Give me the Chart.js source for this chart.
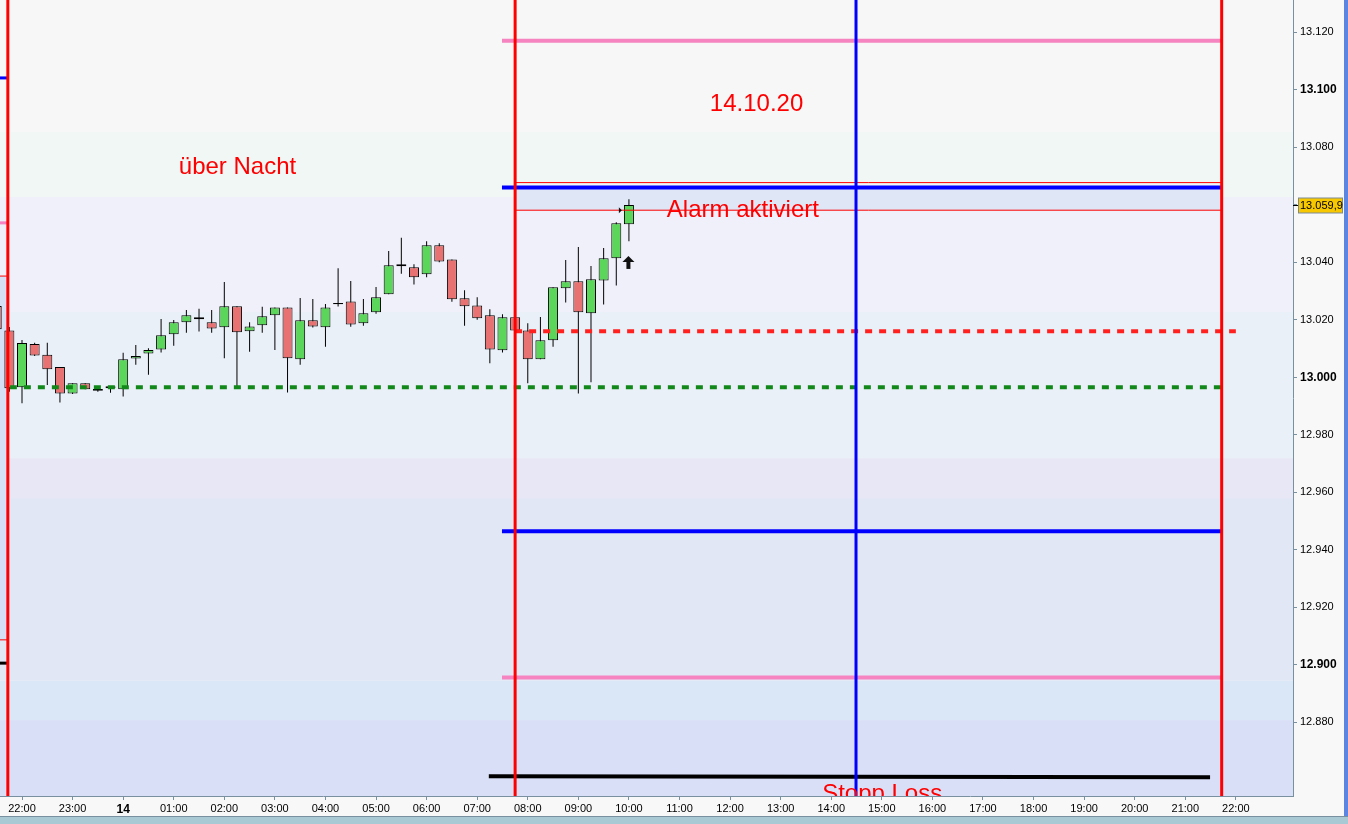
<!DOCTYPE html>
<html>
<head>
<meta charset="utf-8">
<script src="https://cdn.jsdelivr.net/npm/chart.js@4.4.0/dist/chart.umd.min.js"></script>
<style>
    html, body { margin: 0; padding: 0; width: 1348px; height: 824px; overflow: hidden; background: #f8f8f8; }
    #wrap { position: absolute; left: 0; top: 0; width: 1344px; height: 816px; }
    #right-bar { position: absolute; left: 1344px; top: 0; width: 4px; height: 817px; background: #5b85e0; }
    #bottom-line { position: absolute; left: 0; top: 816px; width: 1348px; height: 1px; background: #7890a0; }
    #bottom-bar { position: absolute; left: 0; top: 817px; width: 1348px; height: 7px; background: #a9c9d5; }
</style>
</head>
<body>
<div id="wrap"><canvas id="chart" width="1344" height="816"></canvas></div>
<div id="right-bar"></div>
<div id="bottom-line"></div>
<div id="bottom-bar"></div>
<script>
// 15 minute candles, times
const candleTimes = ['21:30','21:45','22:00','22:15','22:30','22:45','23:00','23:15','23:30','23:45',
    '00:00','00:15','00:30','00:45','01:00','01:15','01:30','01:45','02:00','02:15',
    '02:30','02:45','03:00','03:15','03:30','03:45','04:00','04:15','04:30','04:45',
    '05:00','05:15','05:30','05:45','06:00','06:15','06:30','06:45','07:00','07:15',
    '07:30','07:45','08:00','08:15','08:30','08:45','09:00','09:15','09:30','09:45','10:00'];
const opens = [13024.8, 13016.3, 12996.5, 13011.6, 13007.8, 13003.6, 12994.4, 12997.9, 12995.9, 12996.9,
    12995.8, 13006.5, 13008.3, 13009.7, 13015.0, 13019.1, 13020.9, 13019.1, 13017.4, 13024.7,
    13016.0, 13018.1, 13021.6, 13024.3, 13006.3, 13019.8, 13017.4, 13025.8, 13026.4, 13018.8,
    13022.6, 13028.9, 13039.3, 13038.3, 13035.8, 13045.9, 13041.0, 13027.5, 13025.0, 13021.6,
    13009.4, 13020.9, 13016.3, 13006.3, 13012.9, 13031.0, 13033.4, 13022.3, 13033.7, 13041.4, 13053.2];
const highs = [13026.0, 13017.5, 13013.0, 13012.0, 13012.0, 13003.6, 12997.9, 12997.9, 12995.9, 12996.9,
    13008.5, 13011.2, 13010.1, 13020.3, 13019.9, 13023.4, 13023.8, 13023.4, 13033.1, 13024.7,
    13019.1, 13024.5, 13024.3, 13024.3, 13027.6, 13027.2, 13025.5, 13037.9, 13033.5, 13027.2,
    13031.4, 13043.9, 13048.5, 13039.3, 13047.3, 13046.6, 13041.0, 13030.3, 13027.8, 13023.7,
    13021.9, 13020.9, 13018.8, 13021.0, 13031.3, 13040.8, 13045.3, 13038.7, 13045.0, 13053.9, 13061.9];
const lows = [13015.5, 12995.0, 12991.0, 13007.4, 12997.3, 12991.2, 12994.2, 12995.8, 12995.0, 12994.6,
    12993.3, 13004.4, 13000.9, 13008.6, 13011.0, 13015.5, 13015.9, 13015.5, 13006.6, 12996.7,
    13008.9, 13015.5, 13009.5, 12994.7, 13004.4, 13017.3, 13010.6, 13024.6, 13017.6, 13017.9,
    13022.1, 13028.9, 13036.0, 13032.3, 13034.8, 13040.0, 13026.3, 13017.9, 13020.0, 13004.9,
    13008.6, 13016.3, 12997.9, 13006.3, 13010.6, 13026.0, 12994.4, 12998.3, 13025.3, 13031.9, 13047.3];
const closes = [13016.7, 12996.2, 13011.9, 13007.6, 13002.8, 12994.4, 12997.9, 12995.8, 12995.3, 12996.2,
    13006.3, 13007.4, 13009.5, 13014.6, 13019.1, 13021.6, 13020.2, 13017.0, 13024.7, 13015.7,
    13017.7, 13021.2, 13024.3, 13006.6, 13019.8, 13017.7, 13024.3, 13025.4, 13018.4, 13022.3,
    13027.8, 13039.0, 13038.6, 13034.8, 13045.9, 13040.3, 13027.1, 13024.7, 13020.5, 13009.7,
    13020.9, 13016.3, 13006.3, 13012.9, 13031.3, 13033.4, 13022.6, 13034.1, 13041.4, 13053.6, 13059.9];

// axis ticks (x values are hours counted from 22:00)
const xTickLabels = ['22:00','23:00','14','01:00','02:00','03:00','04:00','05:00','06:00','07:00','08:00','09:00',
    '10:00','11:00','12:00','13:00','14:00','15:00','16:00','17:00','18:00','19:00','20:00','21:00','22:00'];
const yTicks = [12880, 12900, 12920, 12940, 12960, 12980, 13000, 13020, 13040, 13060, 13080, 13100, 13120];
const boldYTicks = [12900, 13000, 13100];
const xRange = [-0.435, 25.13];
const yRange = [12854.4, 13131.2];

// drawn levels
const redVerticals = [-0.28, 9.75, 23.72];
const blueVertical = 16.49;
const pinkLevels = [13117.0, 12895.6];
const blueLevels = [13066.0, 12946.5];
const alarmLevels = [13067.7, 13058.1];
const stopLossLevel = [12861.3, 12860.9];
const redDashLevel = 13016.0;
const greenDashLevel = 12996.5;
const prevDayLevels = [13104.1, 13053.7, 13035.2, 12908.7, 12900.6];

// background zones
const bandEdges = [13131.2, 13085.3, 13062.7, 13022.7, 12971.9, 12958.0, 12894.5, 12880.8, 12854.4];
const bandColors = ['#f7f7f7', '#f0f7f5', '#eff0f9', '#eaf0f8', '#e8e7f5', '#e2e7f6', '#d9e7f6', '#d8dff6'];

// labels on the chart: text, hour, price (baseline)
const noteTexts = ['über Nacht', '14.10.20', 'Alarm aktiviert', 'Stopp Loss'];
const noteX = [3.10, 13.60, 12.75, 15.82];
const noteY = [13070.7, 13092.7, 13055.7, 12852.6];
const arrowMark = [11.99, 13042.2];
const lastMark = [11.86, 13058.1];

function toHours(t) {
    const [h, m] = t.split(':').map(Number);
    let v = h + m / 60 - 22;
    if (v < -2) v += 24;
    return v;
}

const candleX = candleTimes.map(toHours);
const FONT = '"Liberation Sans", Arial, sans-serif';

function seg(x1, y1, x2, y2, color, width, order, dash) {
    return {
        type: 'line',
        data: [{ x: x1, y: y1 }, { x: x2, y: y2 }],
        borderColor: color,
        borderWidth: width,
        borderDash: dash || [],
        borderCapStyle: 'butt',
        pointRadius: 0,
        fill: false,
        tension: 0,
        order: order
    };
}

const datasets = [];

// wicks and bodies
datasets.push({
    type: 'bar',
    data: candleX.map((x, i) => ({ x: x, y: [lows[i], highs[i]] })),
    backgroundColor: '#000000',
    barThickness: 1,
    borderWidth: 0,
    borderSkipped: false,
    inflateAmount: 0,
    grouped: false,
    order: 11
});
datasets.push({
    type: 'bar',
    data: candleX.map((x, i) => ({ x: x, y: [opens[i], closes[i]] })),
    backgroundColor: opens.map((o, i) => closes[i] >= o ? '#5bd65b' : '#e87272'),
    borderColor: '#000000',
    borderWidth: 1,
    barThickness: 10,
    borderSkipped: false,
    inflateAmount: 0,
    grouped: false,
    order: 10
});

// previous day stubs at the left edge
datasets.push(seg(xRange[0], prevDayLevels[0], redVerticals[0], prevDayLevels[0], '#0000ff', 3, 3));
datasets.push(seg(xRange[0], prevDayLevels[1], redVerticals[0], prevDayLevels[1], '#f584c0', 3, 3));
datasets.push(seg(xRange[0], prevDayLevels[2], redVerticals[0], prevDayLevels[2], '#ff0000', 1, 3));
datasets.push(seg(xRange[0], prevDayLevels[3], redVerticals[0], prevDayLevels[3], '#ff0000', 1, 3));
datasets.push(seg(xRange[0], prevDayLevels[4], redVerticals[0], prevDayLevels[4], '#000000', 3, 3));

// today's levels
pinkLevels.forEach(p => datasets.push(seg(9.49, p, 23.72, p, '#f584c0', 4, 2)));
blueLevels.forEach(p => datasets.push(seg(9.49, p, 23.72, p, '#0000ff', 4, 2)));
alarmLevels.forEach(p => datasets.push(seg(9.75, p, 23.72, p, '#ff0000', 1, 2)));
datasets.push(seg(9.23, stopLossLevel[0], 23.49, stopLossLevel[1], '#000000', 4, 2));
datasets.push(seg(9.75, redDashLevel, 24.0, redDashLevel, '#ff2020', 4, 2, [7, 7]));
datasets.push(seg(-0.24, greenDashLevel, 23.72, greenDashLevel, '#12881a', 4, 2, [7, 7]));

// vertical markers
redVerticals.forEach(x => datasets.push(seg(x, yRange[0], x, yRange[1], '#ff0000', 3, 1)));
datasets.push(seg(blueVertical, yRange[0], blueVertical, yRange[1], '#0000ff', 3, 1));

function formatPrice(v) {
    const parts = v.toFixed(1).split('.');
    return parts[0].replace(/\B(?=(\d{3})+(?!\d))/g, '.') + ',' + parts[1];
}

const zonesPlugin = {
    id: 'zones',
    beforeDatasetsDraw(chart) {
        const { ctx, chartArea: a, scales: { x, y } } = chart;
        ctx.save();
        ctx.beginPath();
        ctx.rect(a.left, a.top, a.right - a.left, a.bottom - a.top);
        ctx.clip();
        for (let i = 0; i < bandColors.length; i++) {
            const y1 = y.getPixelForValue(bandEdges[i]);
            const y2 = y.getPixelForValue(bandEdges[i + 1]);
            ctx.fillStyle = bandColors[i];
            ctx.fillRect(a.left, y1, a.right - a.left, y2 - y1);
        }
        // alarm zone
        let x1 = x.getPixelForValue(9.75), x2 = x.getPixelForValue(23.72);
        let y1 = y.getPixelForValue(blueLevels[0]), y2 = y.getPixelForValue(alarmLevels[1]);
        ctx.fillStyle = '#dfe6f6';
        ctx.fillRect(x1, y1, x2 - x1, y2 - y1);
        // previous day zone
        x1 = x.getPixelForValue(xRange[0]);
        x2 = x.getPixelForValue(redVerticals[0]);
        y1 = y.getPixelForValue(prevDayLevels[2]);
        y2 = y.getPixelForValue(prevDayLevels[3]);
        ctx.fillStyle = '#d5dff5';
        ctx.fillRect(x1, y1, x2 - x1, y2 - y1);
        ctx.restore();
    }
};

const notesPlugin = {
    id: 'notes',
    afterDatasetsDraw(chart) {
        const { ctx, chartArea: a, scales: { x, y } } = chart;
        ctx.save();
        ctx.beginPath();
        ctx.rect(a.left, a.top, a.right - a.left, a.bottom - a.top);
        ctx.clip();
        ctx.fillStyle = '#ff0000';
        ctx.font = '24px ' + FONT;
        ctx.textAlign = 'left';
        ctx.textBaseline = 'alphabetic';
        noteTexts.forEach((t, i) => {
            ctx.fillText(t, x.getPixelForValue(noteX[i]), y.getPixelForValue(noteY[i]));
        });

        // up arrow under the last candle
        const ax = x.getPixelForValue(arrowMark[0]);
        const ay = y.getPixelForValue(arrowMark[1]);
        ctx.fillStyle = '#111111';
        ctx.beginPath();
        ctx.moveTo(ax, ay);
        ctx.lineTo(ax + 6, ay + 6);
        ctx.lineTo(ax - 6, ay + 6);
        ctx.closePath();
        ctx.fill();
        ctx.fillRect(ax - 2, ay + 6, 4, 7);

        // small marker at last price
        const mx = x.getPixelForValue(lastMark[0]);
        const my = y.getPixelForValue(lastMark[1]);
        ctx.beginPath();
        ctx.moveTo(mx, my);
        ctx.lineTo(mx - 3, my - 3);
        ctx.lineTo(mx - 3, my + 3);
        ctx.closePath();
        ctx.fill();
        ctx.restore();

        // price box on the axis
        const last = closes[closes.length - 1];
        const py = Math.round(y.getPixelForValue(last)) + 0.5;
        ctx.save();
        ctx.strokeStyle = '#000000';
        ctx.lineWidth = 1;
        ctx.beginPath();
        ctx.moveTo(a.right, py);
        ctx.lineTo(a.right + 5, py);
        ctx.stroke();
        ctx.fillStyle = '#f7c800';
        ctx.fillRect(a.right + 5.5, py - 7.5, 44, 15);
        ctx.strokeStyle = '#7c8a96';
        ctx.strokeRect(a.right + 5.5, py - 7.5, 44, 15);
        ctx.fillStyle = '#000000';
        ctx.font = '11px ' + FONT;
        ctx.textBaseline = 'middle';
        ctx.fillText(formatPrice(last), a.right + 7, py + 0.5);
        ctx.restore();
    }
};

new Chart(document.getElementById('chart'), {
    type: 'bar',
    data: { datasets: datasets },
    options: {
        responsive: false,
        animation: false,
        events: [],
        layout: { padding: 0 },
        plugins: {
            legend: { display: false },
            tooltip: { enabled: false }
        },
        scales: {
            x: {
                type: 'linear',
                min: xRange[0],
                max: xRange[1],
                offset: false,
                afterBuildTicks(axis) {
                    axis.ticks = xTickLabels.map((l, i) => ({ value: i }));
                },
                afterFit(axis) {
                    axis.height = 20;
                    axis.paddingLeft = 0;
                    axis.paddingRight = 0;
                },
                grid: { display: true, drawOnChartArea: false, drawTicks: true, tickLength: 4, tickColor: '#7890a0', offset: false },
                border: { display: true, color: '#7890a0', width: 1 },
                ticks: {
                    autoSkip: false,
                    maxRotation: 0,
                    padding: 2,
                    color: '#000000',
                    font: (c) => ({ family: FONT, size: c.tick && c.tick.value === 2 ? 12 : 11, weight: c.tick && c.tick.value === 2 ? 'bold' : 'normal' }),
                    callback: (v) => xTickLabels[v]
                }
            },
            y: {
                type: 'linear',
                position: 'right',
                min: yRange[0],
                max: yRange[1],
                afterBuildTicks(axis) {
                    axis.ticks = yTicks.map(v => ({ value: v }));
                },
                afterFit(axis) {
                    axis.width = 51;
                    axis.paddingTop = 0;
                    axis.paddingBottom = 0;
                },
                grid: { display: true, drawOnChartArea: false, drawTicks: true, tickLength: 4, tickColor: '#7890a0' },
                border: { display: true, color: '#7890a0', width: 1 },
                ticks: {
                    padding: 3,
                    color: '#000000',
                    font: (c) => ({ family: FONT, size: boldYTicks.includes(c.tick && c.tick.value) ? 12 : 11, weight: boldYTicks.includes(c.tick && c.tick.value) ? 'bold' : 'normal' }),
                    callback: (v) => (v / 1000).toFixed(3)
                }
            }
        }
    },
    plugins: [zonesPlugin, notesPlugin]
});
</script>
</body>
</html>
